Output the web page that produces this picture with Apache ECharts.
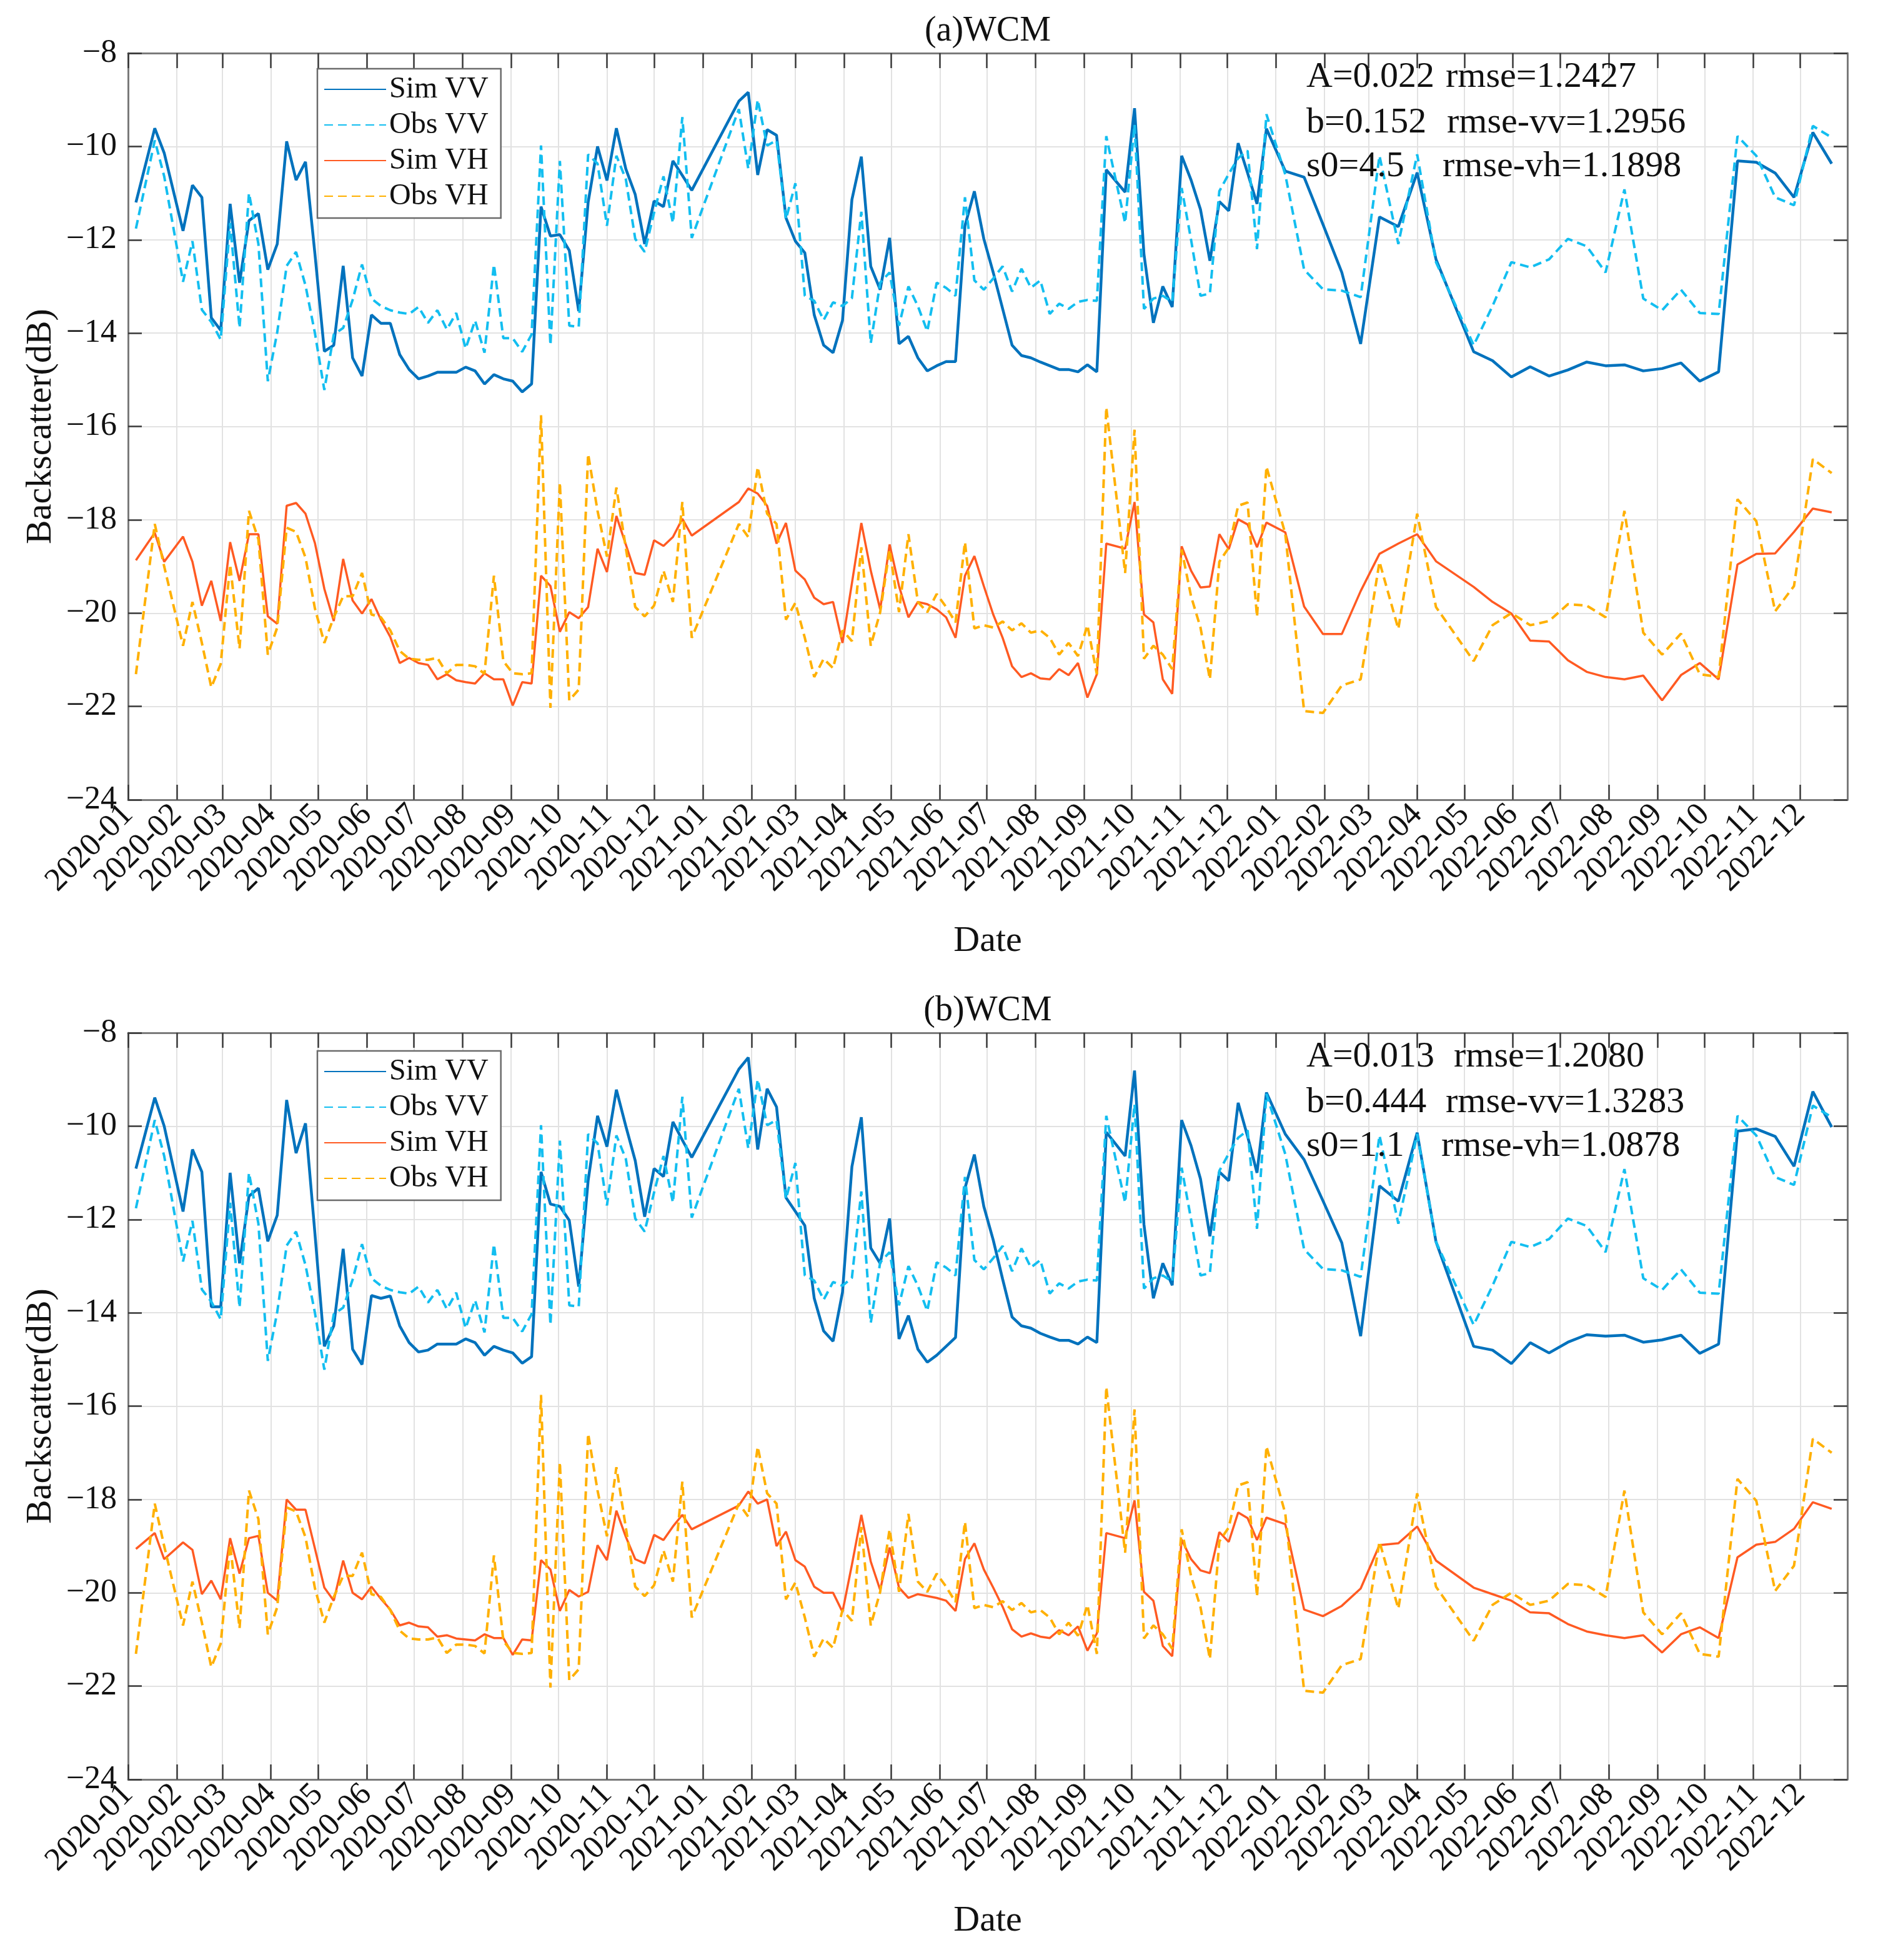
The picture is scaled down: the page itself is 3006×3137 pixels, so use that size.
<!DOCTYPE html>
<html><head><meta charset="utf-8">
<script src="https://cdn.jsdelivr.net/npm/echarts@6/dist/echarts.min.js"></script>
<style>html,body{margin:0;padding:0;background:#fff}#c{width:3006px;height:3137px}</style>
</head><body><div id="c"></div>
<script>
// ---------------- data ----------------
const dates = [
'2020-01-06','2020-01-18','2020-01-24','2020-02-05','2020-02-11','2020-02-17','2020-02-23','2020-02-29','2020-03-06','2020-03-12',
'2020-03-18','2020-03-24','2020-03-30','2020-04-05','2020-04-11','2020-04-17','2020-04-23','2020-04-29','2020-05-05','2020-05-11',
'2020-05-17','2020-05-23','2020-05-29','2020-06-04','2020-06-10','2020-06-16','2020-06-22','2020-06-28','2020-07-04','2020-07-10',
'2020-07-16','2020-07-22','2020-07-28','2020-08-03','2020-08-09','2020-08-15','2020-08-21','2020-08-27','2020-09-02','2020-09-08',
'2020-09-14','2020-09-20','2020-09-26','2020-10-02','2020-10-08','2020-10-14','2020-10-20','2020-10-26','2020-11-01','2020-11-07',
'2020-11-13','2020-11-19','2020-11-25','2020-12-01','2020-12-07','2020-12-13','2020-12-19','2020-12-25',
'2021-01-24','2021-01-30','2021-02-05','2021-02-11','2021-02-17','2021-02-23','2021-03-01','2021-03-07','2021-03-13','2021-03-19',
'2021-03-25','2021-03-31','2021-04-06','2021-04-12','2021-04-18','2021-04-24','2021-04-30','2021-05-06','2021-05-12','2021-05-18',
'2021-05-24','2021-05-30','2021-06-05','2021-06-11','2021-06-17','2021-06-23','2021-06-29','2021-07-05','2021-07-11','2021-07-17',
'2021-07-23','2021-07-29','2021-08-04','2021-08-10','2021-08-16','2021-08-22','2021-08-28','2021-09-03','2021-09-09','2021-09-15',
'2021-09-27','2021-10-03','2021-10-09','2021-10-15','2021-10-21','2021-10-27','2021-11-02','2021-11-08','2021-11-14','2021-11-20',
'2021-11-26','2021-12-02','2021-12-08','2021-12-14','2021-12-20','2021-12-26',
'2022-01-07','2022-01-19','2022-01-31','2022-02-12','2022-02-24','2022-03-08','2022-03-20','2022-04-01','2022-04-13',
'2022-05-07','2022-05-19','2022-05-31','2022-06-12','2022-06-24','2022-07-06','2022-07-18','2022-07-30','2022-08-11','2022-08-23',
'2022-09-04','2022-09-16','2022-09-28','2022-10-10','2022-10-22','2022-11-03','2022-11-15','2022-11-27','2022-12-09','2022-12-21'
];
const obsVV = [
-11.76,-9.87,-10.64,-12.9,-12.03,-13.5,-13.76,-14.14,-11.64,-13.89,
-11.0,-12.09,-15.03,-13.98,-12.56,-12.26,-12.98,-14.0,-15.22,-14.03,
-13.89,-13.29,-12.53,-13.26,-13.42,-13.51,-13.56,-13.59,-13.44,-13.78,
-13.51,-13.92,-13.57,-14.33,-13.73,-14.42,-12.53,-14.11,-14.11,-14.4,
-14.03,-9.98,-14.26,-10.31,-13.84,-13.87,-10.17,-10.37,-11.7,-10.2,
-10.7,-11.98,-12.26,-11.42,-10.64,-11.64,-9.37,-11.96,
-9.2,-10.48,-9.0,-9.98,-9.87,-11.56,-10.79,-13.2,-13.31,-13.72,
-13.34,-13.42,-13.25,-11.4,-14.22,-12.92,-12.7,-13.84,-13.0,-13.42,
-13.96,-12.92,-13.03,-13.2,-11.09,-12.87,-13.07,-12.83,-12.57,-13.11,
-12.62,-13.03,-12.87,-13.59,-13.37,-13.48,-13.33,-13.29,-13.31,-9.78,
-11.64,-9.53,-13.48,-13.26,-13.2,-13.33,-10.89,-12.0,-13.2,-13.15,
-10.96,-10.59,-10.25,-10.09,-12.2,-9.31,
-10.6,-12.64,-13.06,-13.09,-13.23,-10.2,-12.09,-10.17,-12.48,
-14.26,-13.42,-12.48,-12.59,-12.42,-11.98,-12.14,-12.7,-10.92,-13.26,
-13.51,-13.07,-13.57,-13.59,-9.78,-10.2,-11.09,-11.26,-9.56,-9.81
];
const obsVH = [
-21.31,-18.09,-19.0,-20.7,-19.76,-20.64,-21.59,-21.09,-18.96,-20.76,
-17.81,-18.42,-20.89,-20.31,-18.17,-18.26,-18.81,-19.9,-20.64,-20.09,
-19.64,-19.64,-19.14,-20.03,-20.09,-20.37,-20.81,-20.98,-21.0,-21.0,
-20.96,-21.29,-21.11,-21.11,-21.14,-21.3,-19.2,-21.03,-21.29,-21.31,
-21.29,-15.76,-22.03,-17.2,-21.87,-21.64,-16.59,-17.81,-18.79,-17.31,
-18.6,-19.87,-20.07,-19.84,-19.09,-19.76,-17.62,-20.53,
-18.09,-18.37,-16.87,-17.87,-18.09,-20.14,-19.78,-20.53,-21.37,-20.98,
-21.18,-20.37,-20.6,-18.59,-20.7,-19.98,-18.64,-19.98,-18.31,-19.76,
-19.98,-19.59,-19.87,-20.2,-18.48,-20.33,-20.26,-20.31,-20.18,-20.37,
-20.22,-20.42,-20.37,-20.53,-20.89,-20.64,-20.92,-20.26,-21.31,-15.59,
-19.14,-16.07,-20.98,-20.7,-20.89,-21.2,-18.64,-19.64,-20.31,-21.42,
-18.9,-18.6,-17.7,-17.63,-20.08,-16.86,
-18.3,-22.1,-22.14,-21.55,-21.42,-18.9,-20.34,-17.87,-19.87,
-21.03,-20.26,-20.0,-20.26,-20.17,-19.81,-19.84,-20.09,-17.81,-20.42,
-20.89,-20.44,-21.31,-21.37,-17.56,-18.03,-19.96,-19.42,-16.7,-17.0
];
const simVV_a = [
-11.2,-9.61,-10.14,-11.81,-10.83,-11.09,-13.67,-13.94,-11.23,-12.92,
-11.59,-11.44,-12.64,-12.09,-9.89,-10.72,-10.33,-12.3,-14.39,-14.26,
-12.56,-14.53,-14.92,-13.61,-13.79,-13.79,-14.46,-14.78,-14.98,-14.92,
-14.84,-14.84,-14.84,-14.73,-14.81,-15.09,-14.89,-14.98,-15.03,-15.26,
-15.09,-11.29,-11.92,-11.89,-12.23,-13.53,-11.2,-10.0,-10.73,-9.61,
-10.48,-11.03,-12.09,-11.17,-11.29,-10.31,-10.62,-10.94,
-9.03,-8.84,-10.61,-9.64,-9.76,-11.53,-12.03,-12.28,-13.61,-14.26,
-14.42,-13.73,-11.14,-10.22,-12.57,-13.07,-11.96,-14.23,-14.07,-14.53,
-14.81,-14.7,-14.61,-14.61,-11.7,-10.96,-11.98,-12.7,-13.48,-14.26,
-14.48,-14.53,-14.62,-14.7,-14.78,-14.78,-14.83,-14.68,-14.83,-10.5,
-10.98,-9.18,-12.31,-13.78,-13.0,-13.44,-10.2,-10.72,-11.35,-12.45,
-11.18,-11.38,-9.93,-10.57,-11.23,-9.62,
-10.53,-10.66,-11.67,-12.7,-14.23,-11.51,-11.72,-10.56,-12.42,
-14.4,-14.59,-14.94,-14.72,-14.92,-14.79,-14.62,-14.7,-14.68,-14.81,
-14.76,-14.64,-15.03,-14.83,-10.31,-10.34,-10.57,-11.09,-9.7,-10.37
];
const simVH_a = [
-18.87,-18.28,-18.9,-18.36,-18.9,-19.84,-19.31,-20.17,-18.48,-19.31,
-18.31,-18.31,-20.07,-20.23,-17.7,-17.64,-17.87,-18.5,-19.48,-20.17,
-18.84,-19.73,-20.01,-19.7,-20.14,-20.51,-21.07,-20.96,-21.07,-21.11,
-21.42,-21.31,-21.44,-21.48,-21.51,-21.29,-21.42,-21.42,-21.98,-21.48,
-21.51,-19.2,-19.42,-20.4,-19.98,-20.11,-19.87,-18.62,-19.12,-17.92,
-18.53,-19.14,-19.18,-18.44,-18.56,-18.37,-17.98,-18.34,
-17.62,-17.33,-17.44,-17.7,-18.51,-18.07,-19.09,-19.28,-19.67,-19.81,
-19.76,-20.64,-19.36,-18.07,-19.09,-19.92,-18.53,-19.42,-20.09,-19.76,
-19.81,-19.92,-20.09,-20.53,-19.2,-18.78,-19.42,-20.03,-20.53,-21.14,
-21.37,-21.29,-21.4,-21.42,-21.2,-21.33,-21.07,-21.81,-21.31,-18.51,
-18.62,-17.62,-20.03,-20.2,-21.42,-21.73,-18.57,-19.09,-19.45,-19.43,
-18.31,-18.63,-17.99,-18.1,-18.59,-18.06,
-18.27,-19.86,-20.45,-20.45,-19.53,-18.73,-18.51,-18.31,-18.89,
-19.44,-19.76,-20.01,-20.59,-20.61,-21.01,-21.26,-21.37,-21.42,-21.34,
-21.87,-21.33,-21.07,-21.42,-18.96,-18.73,-18.72,-18.26,-17.76,-17.84
];
const simVV_b = [
-10.91,-9.39,-10.0,-11.83,-10.5,-10.98,-13.87,-13.87,-11.0,-12.94,
-11.5,-11.33,-12.47,-11.91,-9.44,-10.58,-9.94,-12.3,-14.72,-14.28,
-12.63,-14.78,-15.11,-13.63,-13.69,-13.64,-14.28,-14.64,-14.84,-14.8,
-14.67,-14.67,-14.67,-14.56,-14.64,-14.91,-14.72,-14.8,-14.86,-15.08,
-14.94,-10.98,-11.67,-11.72,-12.02,-13.44,-11.17,-9.78,-10.44,-9.22,
-10.0,-10.74,-11.94,-10.91,-11.08,-9.91,-10.3,-10.67,
-8.78,-8.53,-10.5,-9.2,-9.59,-11.53,-11.83,-12.13,-13.69,-14.39,
-14.61,-13.56,-10.87,-9.81,-12.61,-12.94,-11.98,-14.56,-14.06,-14.78,
-15.06,-14.91,-14.72,-14.53,-11.33,-10.61,-11.72,-12.44,-13.28,-14.09,
-14.28,-14.33,-14.44,-14.52,-14.59,-14.59,-14.67,-14.52,-14.64,-10.13,
-10.64,-8.81,-12.11,-13.69,-12.94,-13.41,-9.87,-10.42,-11.13,-12.36,
-10.98,-11.17,-9.5,-10.22,-11.0,-9.28,
-10.17,-10.72,-11.6,-12.5,-14.5,-11.28,-11.61,-10.14,-12.48,
-14.72,-14.8,-15.09,-14.64,-14.86,-14.63,-14.47,-14.5,-14.48,-14.63,
-14.58,-14.48,-14.87,-14.67,-10.11,-10.06,-10.22,-10.86,-9.26,-10.02
];
const simVH_b = [
-19.06,-18.72,-19.28,-18.92,-19.08,-20.03,-19.74,-20.14,-18.83,-19.59,
-18.83,-18.78,-20.0,-20.17,-18.0,-18.22,-18.22,-19.05,-19.89,-20.17,
-19.31,-20.0,-20.14,-19.87,-20.13,-20.36,-20.7,-20.64,-20.72,-20.74,
-20.94,-20.91,-20.98,-21.0,-21.02,-20.89,-20.97,-20.97,-21.33,-21.0,
-21.02,-19.3,-19.5,-20.39,-19.94,-20.08,-19.98,-18.98,-19.3,-18.24,
-18.8,-19.28,-19.37,-18.76,-18.87,-18.58,-18.33,-18.64,
-18.13,-17.83,-18.09,-18.0,-19.0,-18.69,-19.3,-19.44,-19.87,-20.0,
-20.0,-20.41,-19.4,-18.33,-19.33,-19.94,-19.03,-19.89,-20.11,-20.03,
-20.07,-20.11,-20.17,-20.39,-19.28,-18.94,-19.5,-19.89,-20.3,-20.78,
-20.94,-20.87,-20.94,-20.97,-20.8,-20.91,-20.72,-21.24,-20.87,-18.72,
-18.83,-18.02,-19.98,-20.17,-21.14,-21.36,-18.86,-19.28,-19.52,-19.58,
-18.7,-18.91,-18.28,-18.4,-18.87,-18.39,
-18.53,-20.36,-20.5,-20.28,-19.91,-18.98,-18.94,-18.58,-19.31,
-19.89,-20.03,-20.17,-20.42,-20.44,-20.67,-20.83,-20.91,-20.97,-20.91,
-21.28,-20.89,-20.74,-20.97,-19.24,-18.97,-18.91,-18.63,-18.06,-18.2
];
const monthLabels = [
'2020-01','2020-02','2020-03','2020-04','2020-05','2020-06','2020-07','2020-08','2020-09','2020-10','2020-11','2020-12',
'2021-01','2021-02','2021-03','2021-04','2021-05','2021-06','2021-07','2021-08','2021-09','2021-10','2021-11','2021-12',
'2022-01','2022-02','2022-03','2022-04','2022-05','2022-06','2022-07','2022-08','2022-09','2022-10','2022-11','2022-12'
];
const seriesNames = ['Sim VV','Obs VV','Sim VH','Obs VH'];
const panelTitles = ['(a)WCM','(b)WCM'];
const paramText = [['A=0.022','b=0.152','s0=4.5'],['A=0.013','b=0.444','s0=1.1']];
const rmseText = [['rmse=1.2427','rmse-vv=1.2956','rmse-vh=1.1898'],['rmse=1.2080','rmse-vv=1.3283','rmse-vh=1.0878']];

// ---------------- layout / style ----------------
const F = "'Liberation Serif','Times New Roman',serif";
const TXT = '#111111';
const GRID_TOPS = [85, 1653];
const GRID_H = 1195;
const GRID_L = 205, GRID_W = 2752;
const COLORS = ['#0072BD', '#13BEF0', '#FF5A22', '#FFB000'];
const DAY = 86400000;

function dayNum(s){ const p = s.split('-').map(Number); return Date.UTC(p[0], p[1]-1, p[2] || 1) / DAY; }
const monthTicks = monthLabels.map(dayNum);
const xMin = dayNum('2020-01-01'), xMax = dayNum('2022-12-31');
function monthLabel(v){ const i = monthTicks.indexOf(Math.round(v)); return i >= 0 ? monthLabels[i] : ''; }
function pair(vals){ return dates.map((d, i) => [dayNum(d), vals[i]]); }

const xAxes = [], yAxes = [], grids = [], series = [], titles = [], legends = [], graphics = [];
const simSets = [[simVV_a, simVH_a], [simVV_b, simVH_b]];

for (let p = 0; p < 2; p++) {
  grids.push({left: GRID_L, top: GRID_TOPS[p], width: GRID_W, height: GRID_H, containLabel: false});
  xAxes.push({
    type: 'value', gridIndex: p, min: xMin, max: xMax, position: 'bottom', scale: true,
    axisLine: {show: true, onZero: false, lineStyle: {color: '#7a7a7a', width: 3}},
    axisTick: {show: true, inside: true, length: 24, customValues: monthTicks, lineStyle: {color: '#3a3a3a', width: 2.5}},
    axisLabel: {show: true, customValues: monthTicks, rotate: 45, formatter: monthLabel, fontSize: 52, fontFamily: F, color: TXT, margin: 16,
      showMinLabel: true, showMaxLabel: true},
    splitLine: {show: true, lineStyle: {color: '#e2e2e2', width: 2}},
    name: 'Date', nameLocation: 'middle', nameGap: 198,
    nameTextStyle: {fontSize: 58, fontFamily: F, color: TXT}
  });
  xAxes.push({
    type: 'value', gridIndex: p, min: xMin, max: xMax, position: 'top', scale: true,
    axisLine: {show: true, onZero: false, lineStyle: {color: '#7a7a7a', width: 3}},
    axisTick: {show: true, inside: true, length: 24, customValues: monthTicks, lineStyle: {color: '#3a3a3a', width: 2.5}},
    axisLabel: {show: false}, splitLine: {show: false}
  });
  yAxes.push({
    type: 'value', gridIndex: p, min: -24, max: -8, interval: 2, position: 'left',
    axisLine: {show: true, onZero: false, lineStyle: {color: '#7a7a7a', width: 3}},
    axisTick: {show: true, inside: true, length: 22, lineStyle: {color: '#3a3a3a', width: 2.5}},
    axisLabel: {fontSize: 52, fontFamily: F, color: TXT, margin: 18,
      formatter: v => (v < 0 ? '\u2212' : '') + Math.abs(v)},
    splitLine: {show: true, lineStyle: {color: '#e2e2e2', width: 2}},
    name: 'Backscatter(dB)', nameLocation: 'middle', nameGap: 108,
    nameTextStyle: {fontSize: 58, fontFamily: F, color: TXT}
  });
  yAxes.push({
    type: 'value', gridIndex: p, min: -24, max: -8, interval: 2, position: 'right',
    axisLine: {show: true, onZero: false, lineStyle: {color: '#7a7a7a', width: 3}},
    axisTick: {show: true, inside: true, length: 22, lineStyle: {color: '#3a3a3a', width: 2.5}},
    axisLabel: {show: false}, splitLine: {show: false}
  });
  const vals = [simSets[p][0], obsVV, simSets[p][1], obsVH];
  const widths = [4.5, 4, 3.5, 4];
  const types = ['solid', [14, 8], 'solid', [14, 8]];
  for (let s = 0; s < 4; s++) {
    series.push({
      name: seriesNames[s], type: 'line', xAxisIndex: p * 2, yAxisIndex: p * 2,
      data: pair(vals[s]), symbol: 'none', showSymbol: false, smooth: false,
      lineStyle: {color: COLORS[s], width: widths[s], type: types[s]},
      itemStyle: {color: COLORS[s]}, z: 2 + s, animation: false
    });
  }
  titles.push({text: panelTitles[p], left: GRID_L + GRID_W / 2, top: GRID_TOPS[p] - 63, textAlign: 'center', padding: 0,
    textStyle: {fontSize: 56, fontFamily: F, fontWeight: 'normal', color: TXT}});
  legends.push({
    data: seriesNames, orient: 'vertical', left: 508, top: GRID_TOPS[p] + 25 + (p ? 4 : 0),
    padding: [8, 20, 10, 10], itemWidth: 99, itemHeight: 14, itemGap: 7,
    backgroundColor: '#ffffff', borderColor: '#6a6a6a', borderWidth: 2.5, borderRadius: 0,
    selectedMode: false,
    itemStyle: {color: 'rgba(0,0,0,0)', borderWidth: 0, opacity: 0},
    textStyle: {fontSize: 48, fontFamily: F, color: TXT, lineHeight: 50}
  });
  const lineOff = [39, 112, 182];
  const rx = p === 0 ? [2314, 2316, 2309] : [2327, 2314, 2307];
  for (let i = 0; i < 3; i++) {
    graphics.push({type: 'text', x: 2091, y: GRID_TOPS[p] + lineOff[i], z: 50,
      style: {text: paramText[p][i], fontSize: 58, fontFamily: F, fill: TXT, align: 'left', verticalAlign: 'middle'}});
    graphics.push({type: 'text', x: rx[i], y: GRID_TOPS[p] + lineOff[i], z: 50,
      style: {text: rmseText[p][i], fontSize: 58, fontFamily: F, fill: TXT, align: 'left', verticalAlign: 'middle'}});
  }
}

const chart = echarts.init(document.getElementById('c'), null, {renderer: 'canvas'});
chart.setOption({
  backgroundColor: '#ffffff', animation: false,
  title: titles, legend: legends, grid: grids, xAxis: xAxes, yAxis: yAxes, series: series,
  graphic: graphics
});
</script>
</body></html>
